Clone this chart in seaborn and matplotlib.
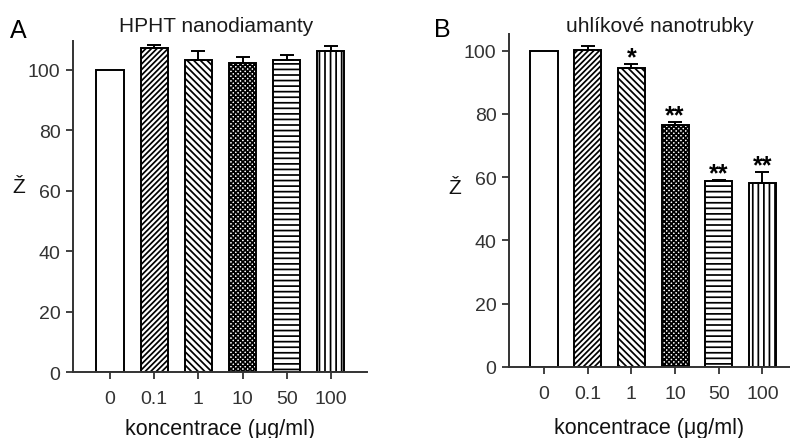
import numpy as np
import pandas as pd
import matplotlib
matplotlib.use("Agg")
import matplotlib.pyplot as plt
import seaborn as sns

sns.set_style("ticks")
plt.rcParams["font.family"] = ["Liberation Sans", "DejaVu Sans"]
plt.rcParams["hatch.linewidth"] = 1.25

# ---- data ----
concentrations = ["0", "0.1", "1", "10", "50", "100"]
hpht_mean = [100, 107.2, 103.4, 102.3, 103.3, 106.4]
hpht_err = [0, 1.2, 2.8, 2.1, 1.7, 1.4]
cnt_mean = [100, 100.3, 94.5, 76.5, 58.7, 58.1]
cnt_err = [0, 1.1, 1.3, 0.9, 0.4, 3.4]
cnt_sig = ["", "", "*", "**", "**", "**"]
title_a = "HPHT nanodiamanty"
title_b = "uhlíkové nanotrubky"
xlabel = "koncentrace (μg/ml)"
ylabel = "Ž"
yticks = [0, 20, 40, 60, 80, 100]

hatches = ["", "//////", "\\\\\\\\\\", "xxxxxxx", "---", "|||"]
DARK = "#333333"

fig = plt.figure(figsize=(7.9, 4.39), dpi=100)
ax_a = fig.add_axes([73 / 790, 1 - 373 / 439, 294 / 790, (373 - 41.7) / 439])
ax_b = fig.add_axes([509 / 790, 1 - 367.7 / 439, 281 / 790, (367.7 - 35) / 439])


def panel(ax, means, errs, ytop, xlim, ylab_pos, xlabpad, sig=None):
    df = pd.DataFrame({"c": concentrations, "v": means})
    sns.barplot(data=df, x="c", y="v", order=concentrations, color="white",
                edgecolor="black", linewidth=1.4, width=0.62, errorbar=None,
                saturation=1, ax=ax)
    for p, h in zip(ax.patches, hatches):
        p.set_hatch(h)
        p.set_facecolor("white")
        p.set_edgecolor("black")
    xs = np.arange(len(concentrations))
    m = np.array(means, dtype=float)
    e = np.array(errs, dtype=float)
    mask = e > 0
    ax.errorbar(xs[mask], m[mask], yerr=[np.zeros(mask.sum()), e[mask]],
                fmt="none", ecolor="black", elinewidth=1.4, capsize=5,
                capthick=1.4, zorder=3)
    if sig is not None:
        for x, y, s in zip(xs, m + e, sig):
            if s:
                ax.annotate(s, (x, y), xytext=(0, 0), textcoords="offset points",
                            ha="center", va="baseline", fontsize=18,
                            fontweight="bold", color="black")
    ax.set_ylim(0, ytop)
    ax.set_xlim(*xlim)
    ax.set_yticks(yticks)
    sns.despine(ax=ax)
    for s in ("left", "bottom"):
        ax.spines[s].set_color(DARK)
        ax.spines[s].set_linewidth(1.4)
    ax.tick_params(axis="both", length=5, width=1.3, color=DARK,
                   labelsize=14, labelcolor=DARK)
    ax.tick_params(axis="y", pad=4)
    ax.tick_params(axis="x", pad=8)
    ax.set_xlabel(xlabel, fontsize=15.5, color="#111111", labelpad=xlabpad)
    ax.set_ylabel(ylabel, fontsize=15, rotation=0, color="#111111",
                  va="center", ha="center")
    ax.yaxis.set_label_coords(*ylab_pos)


panel(ax_a, hpht_mean, hpht_err, 109.7, (-0.84, 5.82), (-0.184, 0.561), 8)
panel(ax_b, cnt_mean, cnt_err, 105.3, (-0.80, 5.63), (-0.192, 0.540), 11,
      sig=cnt_sig)

fig.text(216 / 790, 1 - 26.7 / 439, title_a, fontsize=15, ha="center",
         va="center", color="#1a1a1a")
fig.text(660 / 790, 1 - 26.7 / 439, title_b, fontsize=15, ha="center",
         va="center", color="#1a1a1a")
fig.text(18 / 790, 1 - 31 / 439, "A", fontsize=18, ha="center", va="center",
         color="black")
fig.text(442 / 790, 1 - 30 / 439, "B", fontsize=18, ha="center", va="center",
         color="black")

fig.savefig("out.png", dpi=100)
